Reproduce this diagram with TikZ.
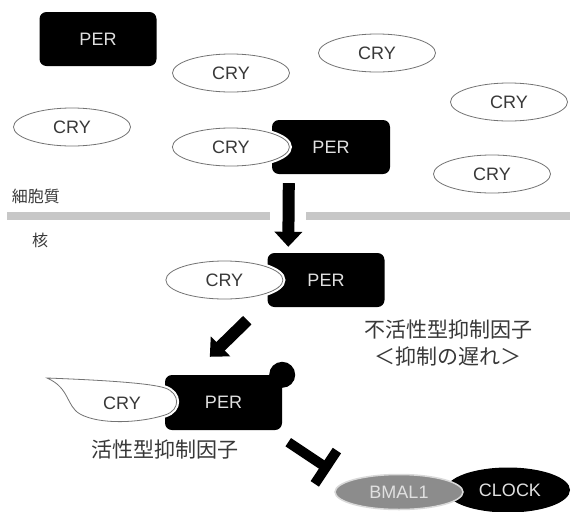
\documentclass[tikz,border=0pt]{standalone}
\usepackage{fontspec}
\setmainfont{Liberation Sans}
\newfontfamily\jpfont{Noto Sans CJK JP}
\usetikzlibrary{arrows.meta,shapes.geometric,positioning}

\definecolor{cryline}{gray}{0.45}
\definecolor{crytext}{gray}{0.22}
\definecolor{pertext}{gray}{0.88}
\definecolor{membranegray}{gray}{0.78}
\definecolor{bmalgray}{gray}{0.55}

\begin{document}
\begin{tikzpicture}[x=1pt, y=-1pt,
    perbox/.style={rectangle, rounded corners=7pt, fill=black, minimum width=117pt,
        minimum height=54pt, text=pertext, font=\fontsize{18}{20}\selectfont},
    cry/.style={ellipse, draw=cryline, fill=white, line width=0.8pt, minimum width=117pt,
        minimum height=38pt, text=crytext, font=\fontsize{18}{20}\selectfont},
    crybound/.style={cry, preaction={draw=white, line width=5pt}},
    bigarrow/.style={line width=12pt, -{Triangle[width=27pt,length=15pt]}},
    inhibit/.style={line width=10pt, -{Bar[width=40pt]}},
    membrane/.style={line width=8pt, draw=membranegray},
    jplabel/.style={align=center, text=crytext, font=\jpfont\fontsize{21}{27}\selectfont},
    smalllabel/.style={text=crytext, font=\jpfont\fontsize{16}{18}\selectfont}]
    \useasboundingbox (0,0) rectangle (571,512);

    % free PER and CRY in the cytoplasm
    \node[perbox] (per0) at (98,39) {PER};
    \node[cry] (cry1) at (231,73) {CRY};
    \node[cry] (cry2) at (377,53) {CRY};
    \node[cry] (cry3) at (509,102) {CRY};
    \node[cry] (cry4) at (72,127) {CRY};
    \node[cry] (cry5) at (492,174) {CRY};

    % PER-CRY complex before entry
    \node[perbox, minimum width=118pt] (per1) at (331,147) {PER};
    \node[crybound, left=-18pt of per1] (cry6) {CRY};

    % nuclear membrane
    \node[smalllabel] (cyto) at (36,196) {細胞質};
    \node[smalllabel] (nuc) at (40,240) {核};
    \draw[membrane] (7,216) -- (270,216);
    \draw[membrane] (306,216) -- (570,216);

    % complex inside the nucleus
    \node[perbox] (per2) at (326,280) {PER};
    \node[crybound, left=-16pt of per2] (cry7) {CRY};
    \node[jplabel] (inact) at (448,343) {不活性型抑制因子\\＜抑制の遅れ＞};

    % active repressor
    \node[perbox, minimum height=55pt] (per3) at (223.5,402.5) {PER};
    \node[circle, fill=black, minimum size=26pt, inner sep=0pt] (knob) at (per3.north east) {};
    \draw[draw=cryline, fill=white, line width=0.8pt, preaction={draw=white, line width=5pt}]
        (47,378) .. controls (100,380) and (150,383) .. (165,388)
        .. controls (180,393) and (181,410) .. (165,415)
        .. controls (140,423) and (100,425) .. (80,414)
        .. controls (66,406) and (70,388) .. cycle;
    \node[text=crytext, font=\fontsize{18}{20}\selectfont] (cry8) at (122,403) {CRY};
    \node[jplabel] (act) at (165,450) {活性型抑制因子};

    % BMAL1 / CLOCK
    \node[ellipse, fill=black, minimum width=124pt, minimum height=45pt, text=pertext,
        font=\fontsize{18}{20}\selectfont] (clock) at (508,490) {\hspace*{4pt}CLOCK};
    \node[ellipse, fill=bmalgray, draw=white!85!black, line width=1.5pt, minimum width=128pt,
        minimum height=35pt, text=pertext, font=\fontsize{18}{20}\selectfont] (bmal) at (399,492) {BMAL1};
    \coordinate (stop) at (330,470);

    % arrows
    \draw[bigarrow] ([xshift=17pt,yshift=-9pt]per1.south west) -- ([xshift=21pt,yshift=6pt]per2.north west);
    \draw[bigarrow] ([xshift=-20pt,yshift=-13pt]per2.south west) -- ([xshift=45pt,yshift=18pt]per3.north west);
    \draw[inhibit] ([xshift=6pt,yshift=-12pt]per3.south east) -- (stop);
\end{tikzpicture}
\end{document}
